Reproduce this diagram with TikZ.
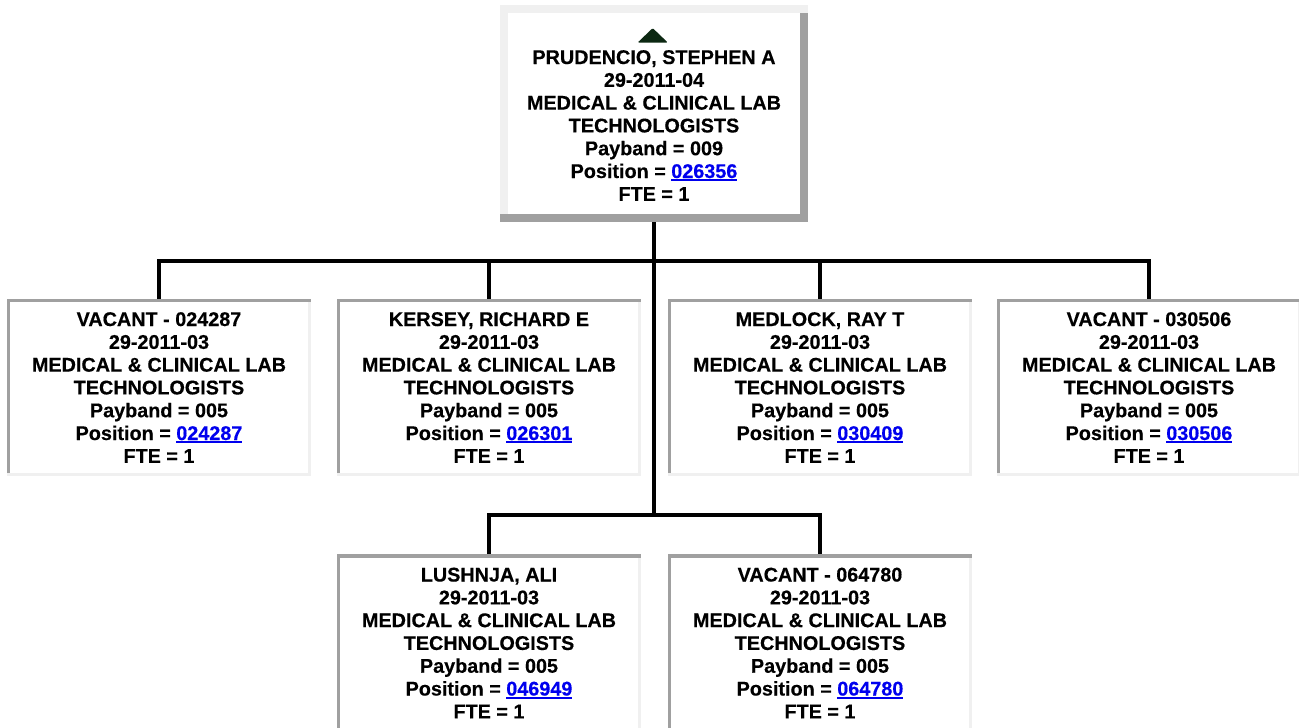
\documentclass[tikz,border=0pt]{standalone}
\usepackage{fontspec}
\setmainfont{Liberation Sans}[BoldFeatures={FakeBold=0.4}]
\usetikzlibrary{calc}
\definecolor{bdark}{RGB}{160,160,160}
\definecolor{blight}{RGB}{240,240,240}
\definecolor{linkblue}{RGB}{0,0,238}
\definecolor{arrowgreen}{RGB}{12,40,18}
\newcommand\lnk[1]{{\color{linkblue}\setbox0=\hbox{#1}\rlap{\rule[-3.2pt]{\wd0}{1.8pt}}\box0}}
\newcommand\bevelbox[4]{%
  \fill[#2] (#1.north west) rectangle ([shift={(0,#4)}]#1.north east);
  \fill[#2] (#1.north west) rectangle ([shift={(#4,-#4)}]#1.south west);
  \fill[#3] ([shift={(-#4,#4)}]#1.north east) rectangle (#1.south east);
  \fill[#3] ([shift={(0,-#4)}]#1.south west) rectangle (#1.south east);
}
\tikzset{
  card/.style={minimum width=304pt, minimum height=177pt, inner sep=0pt,
    fill=white, align=center,
    font=\fontsize{19.8}{22.8}\selectfont\bfseries},
  topcard/.style={card, minimum width=308pt, minimum height=217pt},
  conn/.style={draw=black, line width=4pt},
  uparrow/.style={fill=arrowgreen, rounded corners=1pt}
}
\begin{document}
\begin{tikzpicture}[x=1pt,y=-1pt]
\useasboundingbox (0,0) rectangle (1299,728);
\clip (0,0) rectangle (1299,728);
\fill[white] (0,0) rectangle (1299,728);

% top box
\node[topcard] (top) at (654,113.5) {\rule{0pt}{37.8pt}PRUDENCIO, STEPHEN A\\29-2011-04\\MEDICAL \& CLINICAL LAB\\TECHNOLOGISTS\\Payband = 009\\Position = \lnk{026356}\\FTE = 1};
\bevelbox{top}{blight}{bdark}{8}
\fill[uparrow] ([shift={(-1.3,23.3)}]top.north) -- ([shift={(-16.3,37.7)}]top.north) -- ([shift={(13.7,37.7)}]top.north) -- cycle;

% first row
\node[card] (b1) at (159,387.5) {VACANT - 024287\\29-2011-03\\MEDICAL \& CLINICAL LAB\\TECHNOLOGISTS\\Payband = 005\\Position = \lnk{024287}\\FTE = 1};
\node[card] (b2) at (489,387.5) {KERSEY, RICHARD E\\29-2011-03\\MEDICAL \& CLINICAL LAB\\TECHNOLOGISTS\\Payband = 005\\Position = \lnk{026301}\\FTE = 1};
\node[card] (b3) at (820,387.5) {MEDLOCK, RAY T\\29-2011-03\\MEDICAL \& CLINICAL LAB\\TECHNOLOGISTS\\Payband = 005\\Position = \lnk{030409}\\FTE = 1};
\node[card] (b4) at (1149,387.5) {VACANT - 030506\\29-2011-03\\MEDICAL \& CLINICAL LAB\\TECHNOLOGISTS\\Payband = 005\\Position = \lnk{030506}\\FTE = 1};
% second row
\node[card] (b5) at (489,643) {LUSHNJA, ALI\\29-2011-03\\MEDICAL \& CLINICAL LAB\\TECHNOLOGISTS\\Payband = 005\\Position = \lnk{046949}\\FTE = 1};
\node[card] (b6) at (820,643) {VACANT - 064780\\29-2011-03\\MEDICAL \& CLINICAL LAB\\TECHNOLOGISTS\\Payband = 005\\Position = \lnk{064780}\\FTE = 1};

\bevelbox{b1}{bdark}{blight}{3.6}
\bevelbox{b2}{bdark}{blight}{3.6}
\bevelbox{b3}{bdark}{blight}{3.6}
\bevelbox{b4}{bdark}{blight}{3.6}
\bevelbox{b5}{bdark}{blight}{3.6}
\bevelbox{b6}{bdark}{blight}{3.6}

% connectors
\coordinate (j1) at (654,261);
\coordinate (j2) at (654,514.7);
\draw[conn] (top.south) -- (j2);
\draw[conn] (j1) -| (b1.north);
\draw[conn] (j1) -| (b2.north);
\draw[conn] (j1) -| (b3.north);
\draw[conn] (j1) -| (b4.north);
\draw[conn] (j2) -| (b5.north);
\draw[conn] (j2) -| (b6.north);
\end{tikzpicture}
\end{document}
